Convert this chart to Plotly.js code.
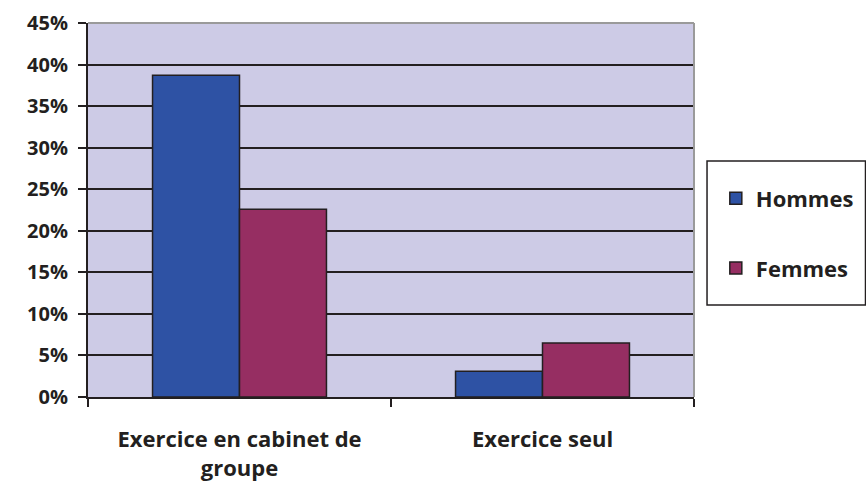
<!DOCTYPE html>
<html>
<head>
<meta charset="utf-8">
<script src="https://cdn.plot.ly/plotly-3.0.1.min.js"></script>
<style>html,body{margin:0;padding:0;background:#fff;}#chart{width:866px;height:487px;}</style>
</head>
<body>
<div id="chart"></div>
<script>
const categories = ["Exercice en cabinet de<br>groupe", "Exercice seul"];
const seriesNames = ["Hommes", "Femmes"];
const hommes = [0.387, 0.031];
const femmes = [0.226, 0.065];
const yTickVals = [0, 0.05, 0.10, 0.15, 0.20, 0.25, 0.30, 0.35, 0.40, 0.45];
const yTickText = ["0%", "5%", "10%", "15%", "20%", "25%", "30%", "35%", "40%", "45%"];

const FONT = "Open Sans, sans-serif";
const DARK = "#231f20";

const traces = [
  {type: "bar", name: seriesNames[0], x: categories, y: hommes, legendgroup: "h",
   marker: {color: "#2E52A4", line: {color: DARK, width: 1.5}}},
  {type: "bar", name: seriesNames[1], x: categories, y: femmes, legendgroup: "f",
   marker: {color: "#962E62", line: {color: DARK, width: 1.5}}}
];

const layout = {
  width: 866, height: 487,
  margin: {l: 88, r: 172, t: 23, b: 90, autoexpand: false},
  paper_bgcolor: "#ffffff",
  plot_bgcolor: "#CDCBE6",
  barmode: "group",
  bargap: 0.426,
  bargroupgap: 0,
  font: {family: FONT, color: DARK, size: 21, weight: "bold"},
  showlegend: true,
  legend: {x: 1.036, y: 0.437, xanchor: "left", yanchor: "middle",
    bgcolor: "rgba(0,0,0,0)", borderwidth: 0,
    font: {family: FONT, size: 22, color: DARK, weight: "bold"},
    tracegroupgap: 38, traceorder: "grouped"},
  xaxis: {type: "category", showgrid: false, showline: true, linecolor: DARK, linewidth: 2,
    ticks: "outside", tickson: "boundaries", ticklen: 8, tickcolor: DARK, tickwidth: 2,
    ticklabelstandoff: 22, automargin: false,
    tickfont: {family: FONT, size: 22, color: DARK, weight: "bold"}, fixedrange: true},
  yaxis: {range: [0, 0.45], tickvals: yTickVals, ticktext: yTickText,
    showgrid: true, gridcolor: DARK, gridwidth: 2, zeroline: false,
    showline: true, linecolor: DARK, linewidth: 2,
    ticks: "outside", ticklen: 8, tickcolor: DARK, tickwidth: 2,
    ticklabelstandoff: 6, automargin: false,
    tickfont: {family: FONT, size: 20, color: DARK, weight: "bold"}, fixedrange: true},
  shapes: [
    {type: "line", xref: "paper", yref: "paper", x0: 0, x1: 1, y0: 1, y1: 1, line: {color: "#9a9a9a", width: 2}},
    {type: "line", xref: "paper", yref: "paper", x0: 1, x1: 1, y0: 0, y1: 1, line: {color: "#9a9a9a", width: 2}},
    {type: "rect", xref: "paper", yref: "paper", x0: 1.0215, x1: 1.283, y0: 0.246, y1: 0.631, line: {color: DARK, width: 1.5}}
  ]
};

Plotly.newPlot("chart", traces, layout, {displayModeBar: false, staticPlot: true});
</script>
</body>
</html>
